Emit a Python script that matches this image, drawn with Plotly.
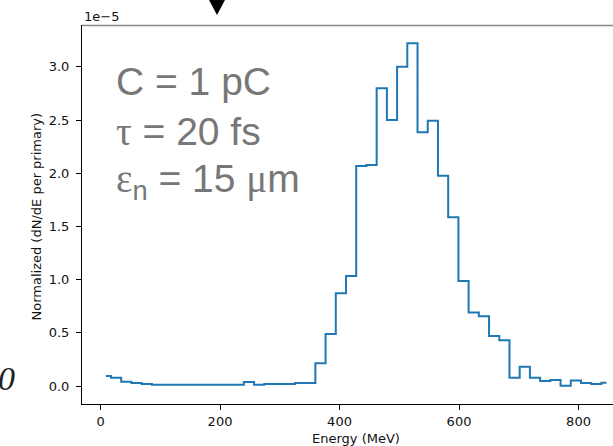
import plotly.graph_objects as go

# ---- data ----
energy_mev = [9.0, 26.1, 43.2, 60.3, 77.4, 94.5, 111.6, 128.7, 145.8, 162.9,
              180.0, 197.1, 214.2, 231.3, 248.4, 265.5, 282.6, 299.7, 316.8, 333.9,
              351.0, 368.1, 385.2, 402.3, 419.4, 436.5, 453.6, 470.7, 487.8, 504.9,
              522.0, 539.1, 556.2, 573.3, 590.4, 607.5, 624.6, 641.7, 658.8, 675.9,
              693.0, 710.1, 727.2, 744.3, 761.4, 778.5, 795.6, 812.7, 829.8, 846.9]
# Normalized dN/dE per primary, in units of 1e-5
dnde_1e5 = [0.095, 0.078, 0.040, 0.028, 0.019, 0.012, 0.012, 0.012, 0.012, 0.012,
            0.012, 0.012, 0.012, 0.012, 0.037, 0.012, 0.019, 0.019, 0.019, 0.028,
            0.028, 0.213, 0.489, 0.871, 1.034, 2.068, 2.077, 2.798, 2.500, 3.001,
            3.221, 2.384, 2.494, 1.977, 1.585, 0.988, 0.692, 0.655, 0.470, 0.429,
            0.078, 0.182, 0.078, 0.047, 0.056, 0.003, 0.053, 0.028, 0.019, 0.031]
x_ticks = [0, 200, 400, 600, 800]
y_ticks = [0.0, 0.5, 1.0, 1.5, 2.0, 2.5, 3.0]
SERIF = "<span style='font-family:\"Liberation Serif\"'>{}</span>"
label_lines = ["C = 1 pC",
               SERIF.format("τ") + " = 20 fs",
               SERIF.format("ε") + "<sub>n</sub> = 15 " + SERIF.format("μ") + "m"]

W, H = 613, 446
ML, MR, MT, MB = 82, 0, 25, 42
PW, PH = W - ML - MR, H - MT - MB


def px(x):
    return (x - ML) / PW


def py(y):
    return (H - MB - y) / PH


fig = go.Figure()
fig.add_trace(go.Scatter(
    x=energy_mev, y=dnde_1e5, mode="lines", line_shape="hvh",
    line=dict(color="#1f77b4", width=2), showlegend=False, hoverinfo="skip"))

tickfont = dict(family="DejaVu Sans", size=13, color="#111")
fig.update_layout(
    width=W, height=H, margin=dict(l=ML, r=MR, t=MT, b=MB),
    paper_bgcolor="white", plot_bgcolor="white",
    xaxis=dict(range=[-31, 857.7], tickvals=x_ticks, ticks="outside", ticklen=5,
               tickcolor="black", showline=True, linecolor="black", linewidth=1,
               showgrid=False, zeroline=False, tickfont=tickfont),
    yaxis=dict(range=[-0.169, 3.393], tickvals=y_ticks, tickformat=".1f",
               ticks="outside", ticklen=5, tickcolor="black", showline=True,
               linecolor="black", linewidth=1, showgrid=False, zeroline=False,
               tickfont=tickfont, ticklabelstandoff=4),
)

axfont = dict(family="DejaVu Sans", size=13, color="#111")
ann = [
    dict(text="Energy (MeV)", x=px(356), y=py(438), xref="paper", yref="paper",
         showarrow=False, xanchor="center", yanchor="middle", font=axfont),
    dict(text="Normalized (dN/dE per primary)", x=px(36), y=py(216.5), xref="paper",
         yref="paper", showarrow=False, textangle=-90, xanchor="center",
         yanchor="middle", font=axfont),
    dict(text="1e\u22125", x=px(82), y=py(17), xref="paper", yref="paper",
         showarrow=False, xanchor="left", yanchor="middle", font=axfont),
    dict(text="0", x=px(17), y=py(378), xref="paper", yref="paper", showarrow=False,
         xanchor="right", yanchor="middle",
         font=dict(family="Liberation Serif", size=34, color="#222", style="italic")),
]
line_centers = [81.5, 131.5, 181.5]
for t, yc in zip(label_lines, line_centers):
    ann.append(dict(text=t, x=px(114), y=py(yc), xref="paper", yref="paper",
                    showarrow=False, xanchor="left", yanchor="middle",
                    font=dict(family="Liberation Sans", size=39, color="#777777")))
fig.update_layout(annotations=ann)

# top frame line (gray) and black marker triangle above the axes
fig.add_shape(type="line", xref="paper", yref="paper", x0=0, x1=1, y0=py(25.5),
              y1=py(25.5), line=dict(color="#888888", width=1.5))
fig.add_shape(type="path", xref="paper", yref="paper",
              path=f"M {px(209)},{py(0)} L {px(225)},{py(0)} L {px(217)},{py(15)} Z",
              fillcolor="black", line=dict(color="black", width=0))

fig.write_html("out.html")
